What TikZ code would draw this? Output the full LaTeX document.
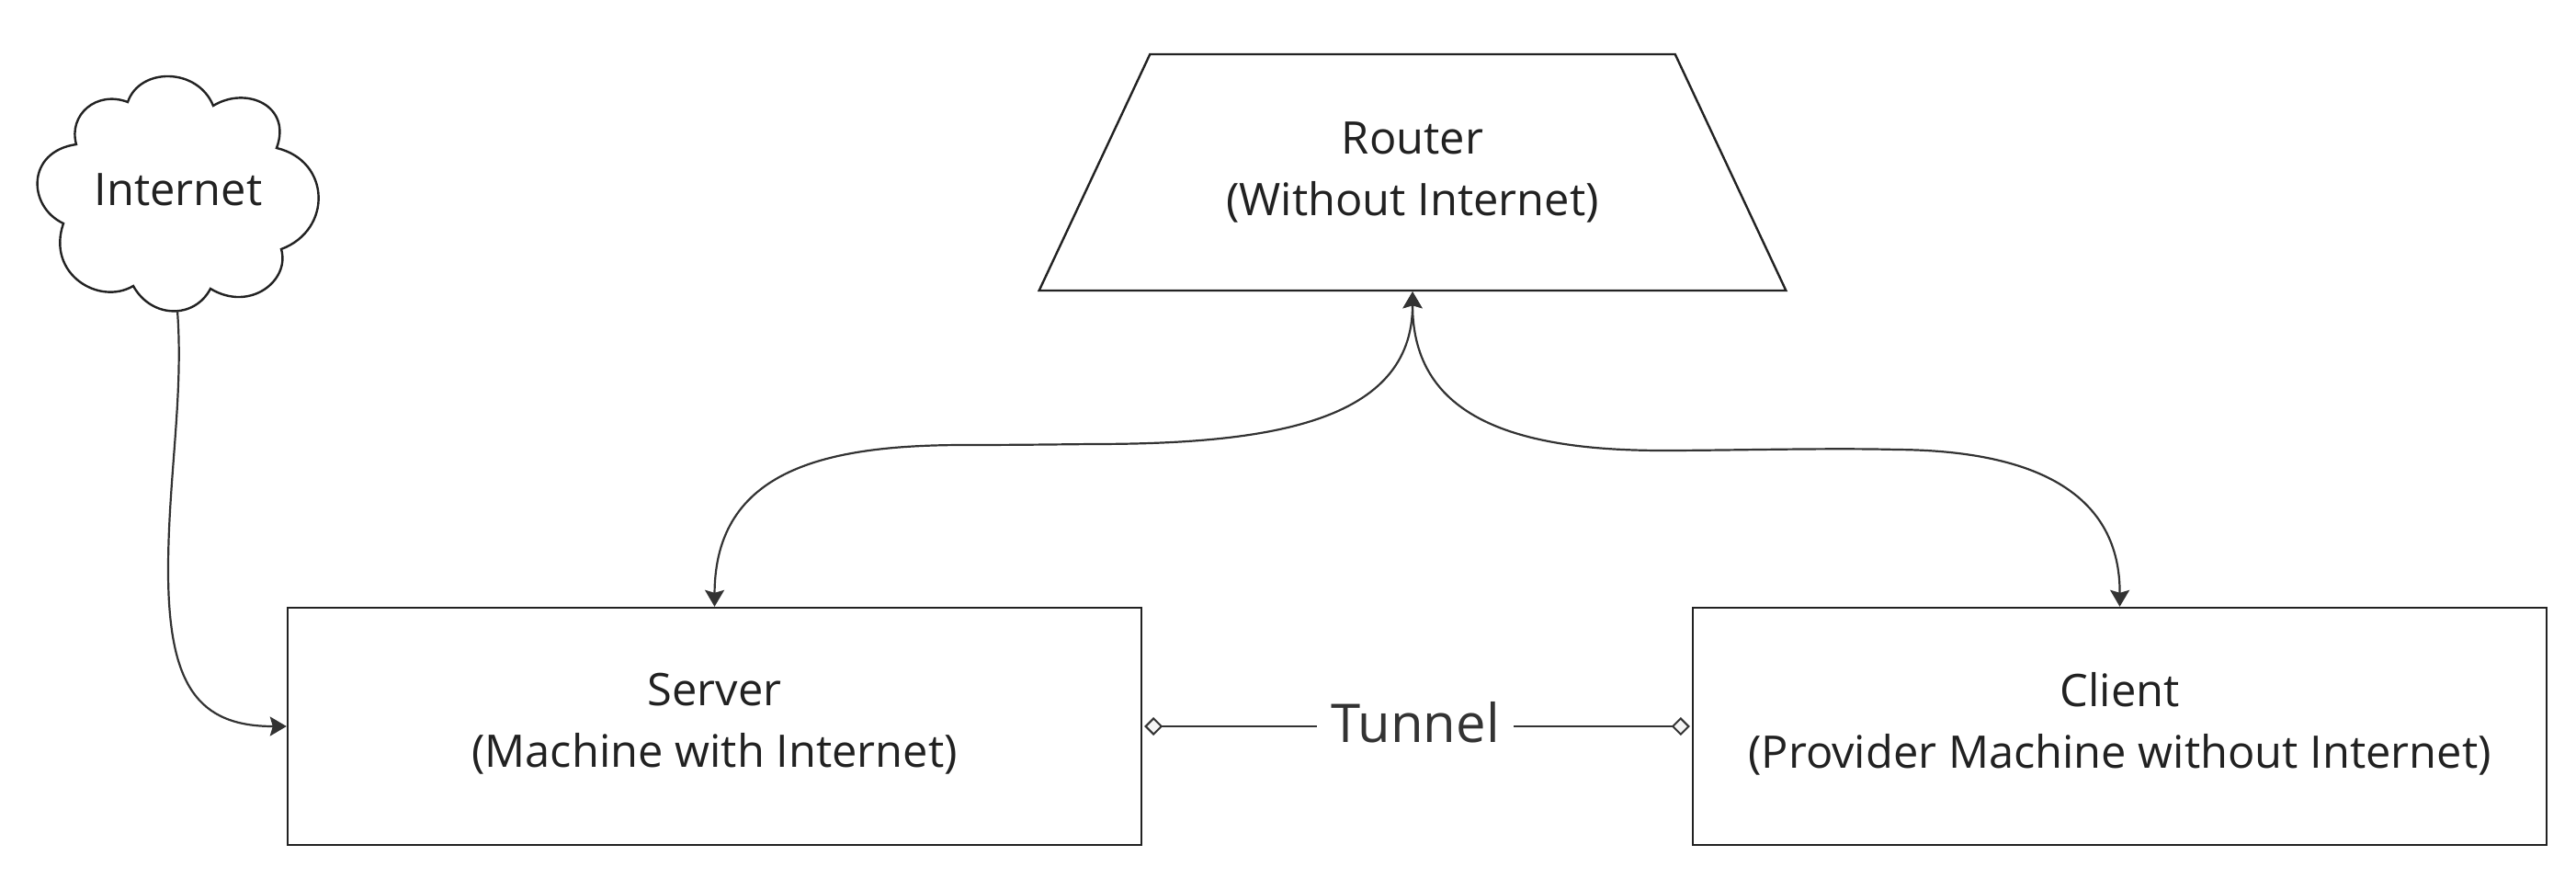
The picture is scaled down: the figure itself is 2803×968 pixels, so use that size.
\documentclass[tikz,border=0pt]{standalone}
\usepackage{fontspec}
\setmainfont{Open Sans}
\usetikzlibrary{arrows.meta,shapes.geometric}
\definecolor{inkc}{HTML}{222222}
\definecolor{tunnelc}{HTML}{333333}
\definecolor{diamondc}{HTML}{F5F5F5}
\tikzset{
  x=0.5pt,y=-0.5pt,
  outline/.style={draw=inkc,line width=1.2pt,inner sep=0pt,fill=white},
  lbl/.style={font=\fontsize{24.4}{33.5}\selectfont,text=black!87,align=center},
  boxnode/.style={outline,lbl,rectangle,text depth=6.2pt,minimum width=464.5pt,minimum height=129pt},
  link/.style={draw=tunnelc,line width=1.1pt},
  arr/.style={link,-{Stealth[length=9pt,width=10.5pt,inset=1.5pt]}},
  arrs/.style={link,{Stealth[length=9pt,width=10.5pt,inset=1.5pt]}-{Stealth[length=9pt,width=10.5pt,inset=1.5pt]}},
  ends/.style={link,shorten <=1pt,shorten >=1pt,{Diamond[length=10pt,width=10pt,open,fill=diamondc,line width=1pt]}-{Diamond[length=10pt,width=10pt,open,fill=diamondc,line width=1pt]}}
}
\begin{document}
\begin{tikzpicture}
\useasboundingbox (0,0) rectangle (2803,968);
% Cloud
\draw[outline] (139,111)
  .. controls (152,73) and (215,73) .. (232,115)
  .. controls (268,93) and (318,115) .. (301,161)
  .. controls (360,175) and (362,250) .. (306,271)
  .. controls (316,305) and (272,340) .. (229,314)
  .. controls (212,347) and (165,347) .. (145,311)
  .. controls (108,333) and (50,298) .. (69,243)
  .. controls (30,225) and (28,165) .. (83,157)
  .. controls (74,125) and (105,98) .. (139,111) -- cycle;
\node[lbl,inner sep=0pt] (internet) at (194,206) {Internet};
\coordinate (cloudbottom) at (193,338);
% Router
\node[outline,lbl,trapezium,trapezium left angle=52,trapezium right angle=52,trapezium stretches=true,minimum width=406.8pt,minimum height=128.5pt] (router) at (1537,187.5) {Router\\(Without Internet)};
% Boxes
\node[boxnode] (server) at (777.5,790) {Server\\(Machine with Internet)};
\node[boxnode] (client) at (2306.5,790) {Client\\(Provider Machine without Internet)};
% Connectors
\draw[arr] (cloudbottom) .. controls (200,430) and (183,520) .. (183,620)
  .. controls (183,745) and (215,790) .. (server.west);
\draw[arrs] (router.south) .. controls (1537,460) and (1380,483) .. (1188,483)
  .. controls (1140,483.5) and (1100,484) .. (1050,484)
  .. controls (900,484) and (778,510) .. (server.north);
\draw[arrs] (router.south) .. controls (1537,455) and (1650,490) .. (1810,490)
  .. controls (1880,490) and (1990,487) .. (2063,489)
  .. controls (2220,490) and (2307,540) .. (client.north);
\draw[ends] (server.east) -- node[fill=white,inner xsep=7.5pt,inner ysep=2pt,font=\fontsize{29}{34}\selectfont,text=tunnelc,yshift=1.9pt,xshift=-1pt] (tunnel) {Tunnel} (client.west);
\end{tikzpicture}
\end{document}
